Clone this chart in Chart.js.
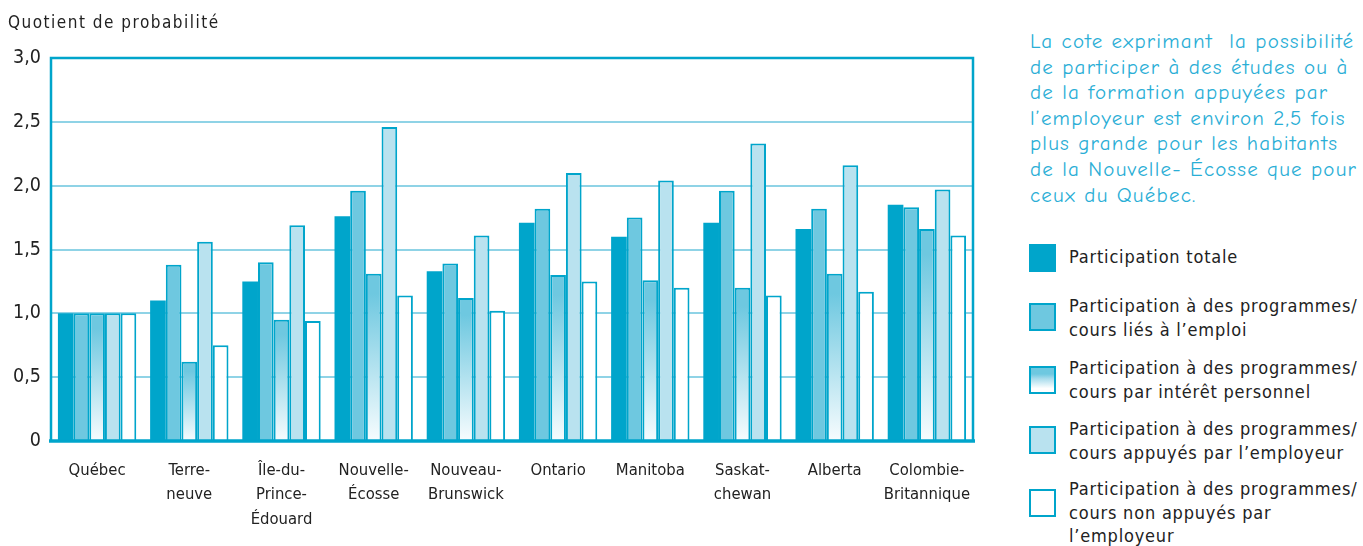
<!DOCTYPE html>
<html lang="fr">
<head>
<meta charset="utf-8">
<script src="https://cdn.jsdelivr.net/npm/chart.js@4"></script>
<style>
  html, body { margin: 0; padding: 0; background: #fff; }
  #page { position: relative; width: 1363px; height: 546px; overflow: hidden; }
  #chartBox { position: absolute; left: 0; top: 0; width: 990px; height: 546px; }
  #ytitle { position: absolute; left: 8px; top: 12px; font: 17px "Liberation Sans Narrow", "DejaVu Sans Condensed", sans-serif; letter-spacing: 1.5px; color: #222; }
  #note { position: absolute; left: 1030px; top: 29px; font: 21px "Comic Neue", "Lato", sans-serif; letter-spacing: 1.2px; line-height: 25.6px; color: #2aaed6; white-space: nowrap; }
  .leg { position: absolute; left: 1029px; font: 18px "Liberation Sans Narrow", "DejaVu Sans Condensed", sans-serif; letter-spacing: 0.8px; color: #222; line-height: 23.5px; }
  .leg .sw { position: absolute; left: 0; width: 23px; height: 24px; border: 2px solid #00a5cb; }
  .leg .tx { position: absolute; left: 40px; width: 320px; white-space: nowrap; }
</style>
</head>
<body>
<div id="page">
  <div id="chartBox"><canvas id="myChart"></canvas></div>
  <div id="ytitle">Quotient de probabilité</div>
  <div id="note">La cote exprimant&nbsp; la possibilité<br>de participer à des études ou à<br>de la formation appuyées par<br>l’employeur est environ 2,5 fois<br>plus grande pour les habitants<br>de la Nouvelle- Écosse que pour<br>ceux du Québec.</div>
  <div id="legend"></div>
</div>
<script>
const provinces = [
  ["Québec"], ["Terre-", "neuve"], ["Île-du-", "Prince-", "Édouard"], ["Nouvelle-", "Écosse"],
  ["Nouveau-", "Brunswick"], ["Ontario"], ["Manitoba"], ["Saskat-", "chewan"], ["Alberta"],
  ["Colombie-", "Britannique"]
];
const totale    = [1.0, 1.10, 1.25, 1.76, 1.33, 1.71, 1.60, 1.71, 1.66, 1.85];
const emploi    = [1.0, 1.38, 1.40, 1.96, 1.39, 1.82, 1.75, 1.96, 1.82, 1.83];
const interet   = [1.0, 0.62, 0.95, 1.31, 1.12, 1.30, 1.26, 1.20, 1.31, 1.66];
const appuyes   = [1.0, 1.56, 1.69, 2.46, 1.61, 2.10, 2.04, 2.33, 2.16, 1.97];
const nonAppuyes = [1.0, 0.75, 0.94, 1.14, 1.02, 1.25, 1.20, 1.14, 1.17, 1.61];
const yTicks = ["0", "0,5", "1,0", "1,5", "2,0", "2,5", "3,0"];
const legendLabels = [
  "Participation totale",
  "Participation à des programmes/<br>cours liés à l’emploi",
  "Participation à des programmes/<br>cours par intérêt personnel",
  "Participation à des programmes/<br>cours appuyés par l’employeur",
  "Participation à des programmes/<br>cours non appuyés par<br>l’employeur"
];

const dark = "#00a5cb";
const mid = "#6ec8e0";
const pale = "#b9e2ef";
const gridLight = "#8fd3e6";
const font = "'Liberation Sans Narrow', 'DejaVu Sans Condensed', sans-serif";

function interetFill(c) {
  const y = c.chart.scales.y;
  if (!y || c.raw === undefined) return mid;
  const top = y.getPixelForValue(c.raw);
  const bottom = y.getPixelForValue(0);
  if (!isFinite(top) || !isFinite(bottom) || top === bottom) return mid;
  const g = c.chart.ctx.createLinearGradient(0, top, 0, bottom);
  g.addColorStop(0, mid);
  g.addColorStop(0.12, mid);
  g.addColorStop(1, "#f7fcfe");
  return g;
}

// frame around the plot area
const framePlugin = {
  id: "frame",
  afterDatasetsDraw(chart) {
    const a = chart.chartArea, ctx = chart.ctx;
    ctx.save();
    ctx.strokeStyle = dark;
    ctx.lineWidth = 2.5;
    ctx.beginPath();
    ctx.moveTo(a.left, a.bottom);
    ctx.lineTo(a.left, a.top);
    ctx.lineTo(a.right, a.top);
    ctx.lineTo(a.right, a.bottom);
    ctx.stroke();
    ctx.lineWidth = 3.5;
    ctx.beginPath();
    ctx.moveTo(a.left - 2, a.bottom);
    ctx.lineTo(a.right + 2, a.bottom);
    ctx.stroke();
    ctx.restore();
  }
};

const common = { borderColor: dark, borderWidth: 2, borderSkipped: "bottom", categoryPercentage: 0.85, barPercentage: 1.0 };

new Chart(document.getElementById("myChart"), {
  type: "bar",
  data: {
    labels: provinces,
    datasets: [
      { ...common, label: "Participation totale", data: totale, backgroundColor: dark, borderWidth: 0 },
      { ...common, label: "Liés à l'emploi", data: emploi, backgroundColor: mid },
      { ...common, label: "Intérêt personnel", data: interet, backgroundColor: interetFill },
      { ...common, label: "Appuyés par l'employeur", data: appuyes, backgroundColor: pale },
      { ...common, label: "Non appuyés", data: nonAppuyes, backgroundColor: "#ffffff" }
    ]
  },
  options: {
    responsive: true,
    maintainAspectRatio: false,
    animation: false,
    layout: { padding: { left: 0, top: 58, right: 17, bottom: 0 } },
    plugins: {
      legend: { display: false },
      tooltip: { enabled: false }
    },
    scales: {
      x: {
        grid: { display: false, drawTicks: false },
        border: { display: false },
        ticks: {
          color: "#222", font: { family: font, size: 16.5, lineHeight: 1.5 },
          padding: 17, maxRotation: 0, minRotation: 0, autoSkip: false
        },
        afterFit(axis) { axis.height = 105; }
      },
      y: {
        min: 0, max: 3,
        grid: { color: gridLight, lineWidth: 2, drawTicks: false },
        border: { display: false },
        ticks: {
          stepSize: 0.5, color: "#222", padding: 10,
          font: { family: font, size: 19.5 },
          callback: (v) => yTicks[Math.round(v * 2)]
        },
        afterFit(axis) { axis.width = 51; }
      }
    }
  },
  plugins: [framePlugin]
});

// legend on the right
const swatches = [
  "background:" + dark + ";border-color:" + dark,
  "background:" + mid,
  "background:linear-gradient(" + mid + " 0%, " + mid + " 25%, #a9dcec 45%, #d4eef6 65%, #ffffff 85%)",
  "background:" + pale,
  "background:#fff"
];
const legTops = [244, 303, 366, 426, 489];
const legTextTops = [245, 294, 356, 417, 477];
const legend = document.getElementById("legend");
legendLabels.forEach((txt, i) => {
  const d = document.createElement("div");
  d.className = "leg";
  d.style.top = "0px";
  d.innerHTML = '<div class="sw" style="top:' + legTops[i] + "px;" + swatches[i] + '"></div>' +
    '<div class="tx" style="top:' + legTextTops[i] + 'px">' + txt + "</div>";
  legend.appendChild(d);
});
</script>
</body>
</html>
